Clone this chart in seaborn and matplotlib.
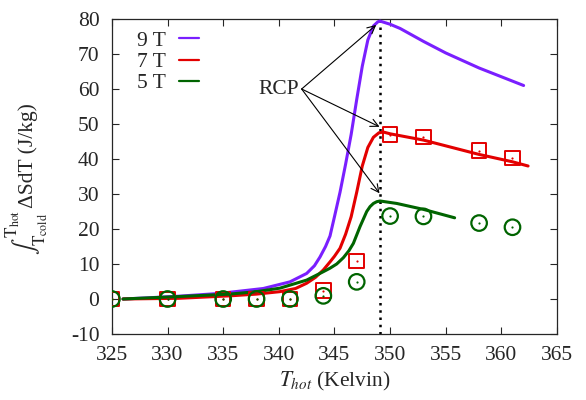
import matplotlib
matplotlib.use("Agg")
import matplotlib.pyplot as plt
from matplotlib.lines import Line2D
import pandas as pd
import seaborn as sns

# Integrated entropy change curves (J/kg) versus hot-side temperature (K)
t9 = [326, 328, 331, 334.7, 338.6, 341.0, 342.5, 343.2, 343.7, 344.2, 344.6,
      345.0, 345.5, 346.0, 346.5, 347.0, 347.5, 348.0, 348.5, 348.9, 349.1,
      350.0, 350.9, 353.0, 355.0, 358.0, 362.0]
s9 = [0.0, 0.3, 0.8, 1.6, 3.0, 4.9, 7.3, 9.5, 12.0, 15.0, 18.0,
      23.5, 30.5, 38.5, 47.0, 57.0, 66.5, 74.0, 78.0, 79.2, 79.4,
      78.5, 77.3, 73.6, 70.3, 66.0, 61.0]

t7 = [326, 331, 335.6, 338.0, 340.1, 341.5, 342.5, 343.3, 344.0, 344.6, 345.0,
      345.5, 346.0, 346.5, 347.0, 347.5, 348.0, 348.5, 349.0, 349.4, 350.0,
      353.0, 358.0, 361.0, 362.4]
s7 = [0.0, 0.2, 0.9, 1.4, 2.1, 3.0, 4.5, 6.2, 8.3, 10.6, 12.2,
      14.5, 18.5, 23.5, 30.5, 38.0, 43.3, 46.2, 47.5, 47.7, 47.2,
      45.4, 41.3, 39.2, 38.0]

t5 = [326, 331, 335.6, 338.0, 340.1, 342.5, 344.0, 344.6, 345.2, 345.8, 346.3,
      346.7, 347.3, 347.9, 348.2, 348.5, 348.8, 349.1, 350.6, 353.0, 355.8]
s5 = [0.0, 0.7, 1.4, 2.1, 3.1, 5.4, 7.8, 8.8, 10.0, 11.8, 13.8,
      15.9, 20.7, 25.0, 26.4, 27.3, 27.8, 28.0, 27.3, 25.6, 23.2]

# Measured points
t_meas = [325, 330, 335, 338, 341, 344, 347, 350, 353, 358, 361]
meas7 = [0.0, 0.0, 0.0, 0.0, 0.0, 2.4, 10.9, 47.0, 46.3, 42.4, 40.3]
meas5 = [0.0, 0.0, 0.0, 0.0, 0.0, 0.9, 4.9, 23.7, 23.6, 21.7, 20.5]

fields = ["9 T", "7 T", "5 T"]
colors = {"9 T": "#7a1fff", "7 T": "#e30000", "5 T": "#006400"}

t_rcp = 349.1
rcp_targets = [(348.75, 78.3), (349.05, 49.2), (349.05, 30.2)]
rcp_origin = (342.05, 60.0)

xticks = list(range(325, 366, 5))
yticks = list(range(-10, 81, 10))

curves = pd.concat([
    pd.DataFrame({"T": t9, "S": s9, "field": "9 T"}),
    pd.DataFrame({"T": t7, "S": s7, "field": "7 T"}),
    pd.DataFrame({"T": t5, "S": s5, "field": "5 T"}),
], ignore_index=True)
points = pd.concat([
    pd.DataFrame({"T": t_meas, "S": meas7, "field": "7 T"}),
    pd.DataFrame({"T": t_meas, "S": meas5, "field": "5 T"}),
], ignore_index=True)

FS = 15.5
sns.set_style("ticks")
plt.rcParams["font.family"] = ["Liberation Serif", "DejaVu Serif"]
plt.rcParams["mathtext.fontset"] = "stix"
plt.rcParams["font.size"] = FS
plt.rcParams["axes.unicode_minus"] = False

fig = plt.figure(figsize=(5.86, 4.0), dpi=100)
ax = fig.add_axes([0.191, 0.165, 0.7595, 0.7875])

sns.lineplot(data=curves, x="T", y="S", hue="field", hue_order=fields,
             palette=colors, estimator=None, sort=False, lw=2.2,
             legend=False, ax=ax, zorder=3)

sq = points[points.field == "7 T"]
ci = points[points.field == "5 T"]
sns.scatterplot(data=sq, x="T", y="S", marker="s", s=110,
                facecolors="none", edgecolor=colors["7 T"], linewidth=1.4,
                legend=False, ax=ax, zorder=4)
sns.scatterplot(data=ci, x="T", y="S", marker="o", s=125,
                facecolors="none", edgecolor=colors["5 T"], linewidth=1.6,
                legend=False, ax=ax, zorder=5)
sns.scatterplot(data=sq, x="T", y="S", marker="o", s=2.5,
                color=colors["7 T"], linewidth=0, legend=False, ax=ax, zorder=6)
sns.scatterplot(data=ci, x="T", y="S", marker="o", s=2.5,
                color=colors["5 T"], linewidth=0, legend=False, ax=ax, zorder=6)

ax.axvline(t_rcp, color="black", ls=(0, (1, 1.9)), lw=1.8, zorder=2)

ax.text(rcp_origin[0] - 0.2, rcp_origin[1], "RCP", ha="right", va="center",
        fontsize=FS)
for tgt in rcp_targets:
    ax.annotate("", xy=tgt, xytext=rcp_origin,
                arrowprops=dict(arrowstyle="->", color="black", lw=0.8,
                                shrinkA=0, shrinkB=0, mutation_scale=14),
                zorder=7)

ax.set_xlim(325, 365)
ax.set_ylim(-10, 80)
ax.set_xticks(xticks)
ax.set_yticks(yticks)
ax.tick_params(direction="in", top=True, right=True, length=5, width=0.8,
               labelsize=FS, pad=9)
for sp in ax.spines.values():
    sp.set_linewidth(0.9)

ax.set_xlabel(r"$T_{hot}$ (Kelvin)", fontsize=FS, labelpad=3)
ax.set_ylabel("")

# y label: integral sign with limits, followed by the quantity and unit
W, H = fig.get_size_inches() * fig.dpi
base_x = 33 / W
start_y = 1 - 255 / H
int_txt = fig.text(base_x, start_y,
                   r"$\int_{\mathrm{T_{cold}}}^{\mathrm{T_{hot}}}$",
                   rotation=90, rotation_mode="anchor", ha="left",
                   va="baseline", fontsize=17.5)
fig.canvas.draw()
bb = int_txt.get_window_extent(fig.canvas.get_renderer())
fig.text(base_x, bb.y1 / H + 1.5 / H, "ΔSdT (J/kg)", rotation=90,
         rotation_mode="anchor", ha="left", va="baseline", fontsize=FS)

handles = [Line2D([0], [0], color=colors[f], lw=1.6) for f in fields]
ax.legend(handles, fields, loc="upper left", frameon=False, markerfirst=False,
          handlelength=0.93, handletextpad=0.6, labelspacing=0.05,
          bbox_to_anchor=(0.03, 1.0), borderaxespad=0.15, fontsize=FS)

fig.savefig("out.png", dpi=100)
